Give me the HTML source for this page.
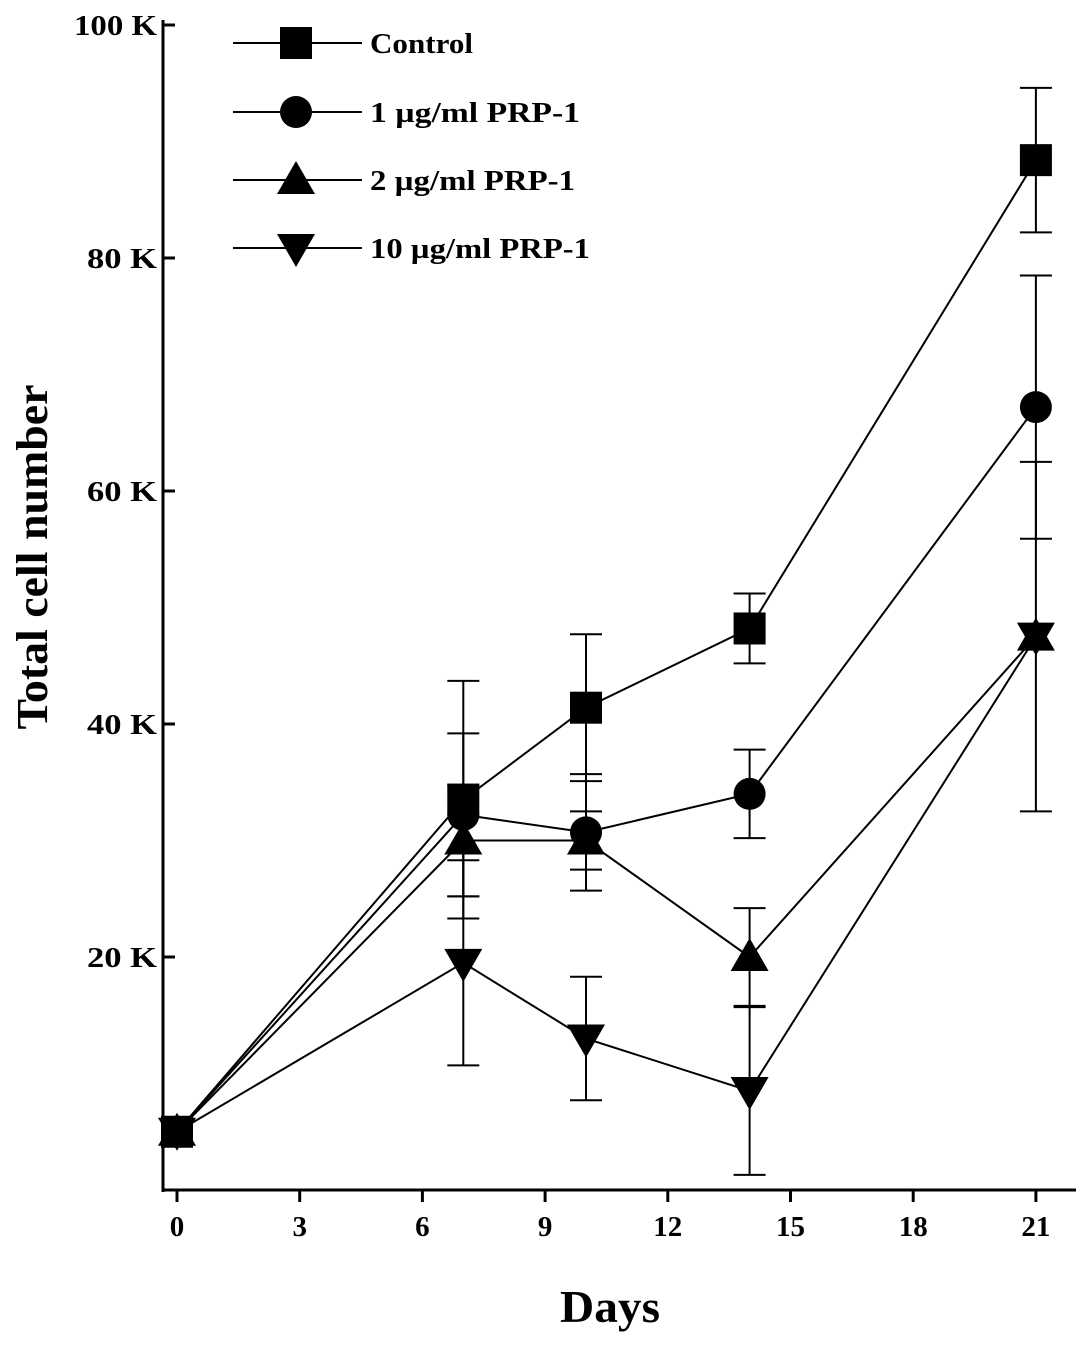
<!DOCTYPE html>
<html><head><meta charset="utf-8">
<style>
html,body{margin:0;padding:0;background:#fff;}
svg text{font-family:"Liberation Serif",serif;font-weight:bold;fill:#000;}
</style></head>
<body>
<svg id="chart" width="1087" height="1344" xmlns="http://www.w3.org/2000/svg"></svg>
<script>
const days = [0, 7, 10, 14, 21];
const seriesNames = ["Control", "1 \u00b5g/ml PRP-1", "2 \u00b5g/ml PRP-1", "10 \u00b5g/ml PRP-1"];
const markers = ["square", "circle", "triangle", "down"];
const controlVals = [5, 33.5, 41.4, 48.2, 88.4];
const controlErr = [0, 10.2, 6.3, 3, 6.2];
const prp1Vals = [5, 32.2, 30.7, 34, 67.2];
const prp1Err = [0, 7, 5, 3.8, 11.3];
const prp2Vals = [5, 30, 30, 20, 47.5];
const prp2Err = [0, 4.8, 2.5, 4.2, 0];
const prp10Vals = [5, 19.5, 13, 8.5, 47.5];
const prp10Err = [0, 8.8, 5.3, 7.2, 15];
const xTicks = [0, 3, 6, 9, 12, 15, 18, 21];
const yTicks = [20, 40, 60, 80, 100];
const yTickLabels = ["20 K", "40 K", "60 K", "80 K", "100 K"];

const svg = document.getElementById('chart');
const NS = "http://www.w3.org/2000/svg";
const X = d => 177 + d * 40.9;
const Y = v => 1190 - v * 11.65;
function el(tag, attrs, parent){ const e=document.createElementNS(NS,tag); for(const k in attrs) e.setAttribute(k,attrs[k]); (parent||svg).appendChild(e); return e; }

const axes = el('g',{});


el('line',{x1:163,y1:20,x2:163,y2:1192,stroke:'#000','stroke-width':3},axes);
el('line',{x1:162,y1:1190,x2:1076,y2:1190,stroke:'#000','stroke-width':3},axes);
xTicks.forEach(t=>{
  el('line',{x1:X(t),y1:1190,x2:X(t),y2:1202,stroke:'#000','stroke-width':3},axes);
  const tx=el('text',{x:X(t),y:1236,'text-anchor':'middle','font-size':29},axes);
  
  
  tx.textContent=t;
});
yTicks.forEach((t,i)=>{
  el('line',{x1:163,y1:Y(t),x2:175,y2:Y(t),stroke:'#000','stroke-width':3},axes);
  const s=String(t).length;
  const tx=el('text',{x:157,y:Y(t)+10,'text-anchor':'end','font-size':29,textLength:s===3?83:70,lengthAdjust:'spacingAndGlyphs'},axes);
  
  
  tx.textContent=yTickLabels[i];
});
el('text',{x:0,y:0,'text-anchor':'middle','font-size':44,textLength:345,lengthAdjust:'spacingAndGlyphs',transform:'translate(47,557) rotate(-90)',}).textContent='Total cell number';
el('text',{x:610,y:1322,'text-anchor':'middle','font-size':46,textLength:100,lengthAdjust:'spacingAndGlyphs',}).textContent='Days';

function marker(type,cx,cy,parent){
  if(type==='square') return el('rect',{x:cx-16,y:cy-16,width:32,height:32,fill:'#000'},parent);
  if(type==='circle') return el('circle',{cx:cx,cy:cy,r:16,fill:'#000'},parent);
  if(type==='triangle') return el('polygon',{points:`${cx},${cy-19} ${cx-19},${cy+14} ${cx+19},${cy+14}`,fill:'#000'},parent);
  return el('polygon',{points:`${cx},${cy+19} ${cx-19},${cy-14} ${cx+19},${cy-14}`,fill:'#000'},parent);
}

const allVals=[controlVals,prp1Vals,prp2Vals,prp10Vals];
const allErr=[controlErr,prp1Err,prp2Err,prp10Err];
allVals.forEach((vals,s)=>{
  const g=el('g',{});
  
  
  el('polyline',{points:vals.map((v,i)=>X(days[i])+','+Y(v)).join(' '),fill:'none',stroke:'#000','stroke-width':2},g);
  vals.forEach((v,i)=>{
    const e=allErr[s][i];
    if(e>0){
      const eb=el('g',{},g);
      
      
      el('line',{x1:X(days[i]),y1:Y(v+e),x2:X(days[i]),y2:Y(v-e),stroke:'#000','stroke-width':2},eb);
      el('line',{x1:X(days[i])-16,y1:Y(v+e),x2:X(days[i])+16,y2:Y(v+e),stroke:'#000','stroke-width':2},eb);
      el('line',{x1:X(days[i])-16,y1:Y(v-e),x2:X(days[i])+16,y2:Y(v-e),stroke:'#000','stroke-width':2},eb);
    }
    const m=marker(markers[s],X(days[i]),Y(v),g);
    
    
  });
});

const rows=[43,112,180,248];
const legendW=[103,210,205,220];
seriesNames.forEach((n,s)=>{
  const g=el('g',{});
  
  
  el('line',{x1:233,y1:rows[s],x2:362,y2:rows[s],stroke:'#000','stroke-width':2},g);
  marker(markers[s],296,rows[s],g);
  const t=el('text',{x:370,y:rows[s]+10,'font-size':29,textLength:legendW[s],lengthAdjust:'spacingAndGlyphs'},g);
  t.textContent=n;
});
</script>
</body></html>
